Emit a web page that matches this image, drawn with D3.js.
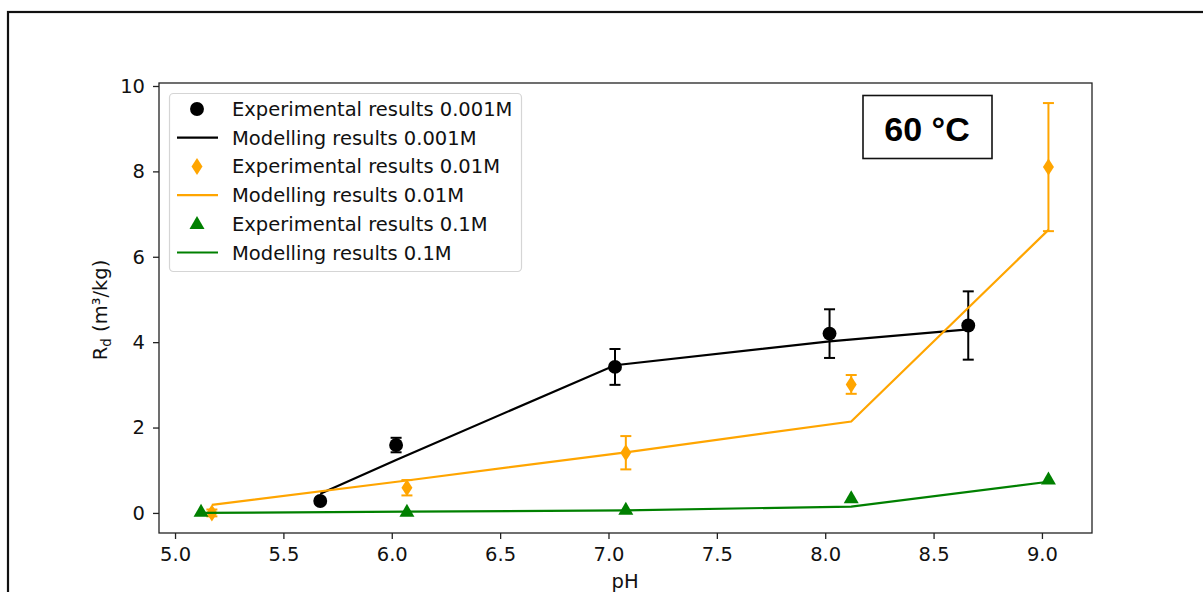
<!DOCTYPE html>
<html>
<head>
<meta charset="utf-8">
<script src="https://cdn.jsdelivr.net/npm/d3@7"></script>
<style>
  html, body { margin: 0; padding: 0; background: #fff; }
  svg { display: block; }
  text { font-family: "DejaVu Sans", sans-serif; }
</style>
</head>
<body>
<svg id="chart" width="1203" height="592"></svg>
<script>
// Sorption distribution coefficient vs pH at 60 °C, three ionic strengths
const seriesNames = ["0.001M", "0.01M", "0.1M"];
const seriesColors = ["#000000", "#FFA500", "#008000"];

// Experimental points (pH, Rd, error)
const expPH_001 = [5.67, 6.02, 7.03, 8.02, 8.66];
const expRd_001 = [0.28, 1.59, 3.42, 4.20, 4.39];
const expErr_001 = [0.0, 0.17, 0.42, 0.57, 0.80];

const expPH_01 = [5.17, 6.07, 7.08, 8.12, 9.03];
const expRd_01 = [0.0, 0.59, 1.41, 3.01, 8.10];
const expErr_01 = [0.08, 0.18, 0.39, 0.22, 1.50];

const expPH_1 = [5.12, 6.07, 7.08, 8.12, 9.03];
const expRd_1 = [0.03, 0.03, 0.08, 0.35, 0.79];

// Modelling results (pH, Rd)
const modPH_001 = [5.67, 6.02, 7.03, 8.02, 8.66];
const modRd_001 = [0.45, 1.24, 3.46, 4.02, 4.30];

const modPH_01 = [5.17, 6.07, 7.08, 8.12, 9.03];
const modRd_01 = [0.19, 0.76, 1.42, 2.14, 6.63];

const modPH_1 = [5.12, 6.07, 7.08, 8.12, 9.03];
const modRd_1 = [0.0, 0.03, 0.06, 0.15, 0.73];

const xTicks = [5.0, 5.5, 6.0, 6.5, 7.0, 7.5, 8.0, 8.5, 9.0];
const yTicks = [0, 2, 4, 6, 8, 10];

const FONT = "19.5px";
const svg = d3.select("#chart");

// outer frame
svg.append("rect")
  .attr("x", 8).attr("y", 12)
  .attr("width", 1300).attr("height", 700)
  .attr("fill", "none").attr("stroke", "#111").attr("stroke-width", 2.2);

const plot = { left: 159, right: 1092, top: 83, bottom: 533 };

const x = d3.scaleLinear().domain([4.926, 9.231]).range([plot.left, plot.right]);
const y = d3.scaleLinear().domain([-0.47, 10.07]).range([plot.bottom, plot.top]);

// axes
const xAxis = d3.axisBottom(x).tickValues(xTicks).tickFormat(d3.format(".1f")).tickSize(6).tickPadding(8);
const yAxis = d3.axisLeft(y).tickValues(yTicks).tickFormat(d3.format("d")).tickSize(6).tickPadding(8);

const gx = svg.append("g").attr("transform", `translate(0,${plot.bottom})`).call(xAxis);
const gy = svg.append("g").attr("transform", `translate(${plot.left},0)`).call(yAxis);
[gx, gy].forEach(g => {
  g.select(".domain").remove();
  g.selectAll(".tick line").attr("stroke", "#222").attr("stroke-width", 1.3);
  g.selectAll(".tick text").attr("fill", "#111").style("font-size", FONT)
    .style("font-family", "'DejaVu Sans', sans-serif");
});

// spines
svg.append("rect")
  .attr("x", plot.left).attr("y", plot.top)
  .attr("width", plot.right - plot.left).attr("height", plot.bottom - plot.top)
  .attr("fill", "none").attr("stroke", "#222").attr("stroke-width", 1.3);

// axis labels
svg.append("text")
  .attr("x", x(7.0765)).attr("y", 588)
  .attr("text-anchor", "middle")
  .style("font-size", FONT).attr("fill", "#111")
  .text("pH");

const yl = svg.append("text")
  .attr("transform", `translate(107,${(plot.top + plot.bottom) / 2 + 2}) rotate(-90)`)
  .attr("text-anchor", "middle")
  .style("font-size", FONT).attr("fill", "#111");
yl.append("tspan").text("R");
yl.append("tspan").attr("dy", 4).style("font-size", "13.5px").text("d");
yl.append("tspan").attr("dy", -4).text(" (m³/kg)");

const line = d3.line().x(d => x(d[0])).y(d => y(d[1]));

// marker shapes
const circleSym = d3.symbol().type(d3.symbolCircle).size(152);
function diamondPath(w, h) {
  return `M0,${-h / 2}L${w / 2},0L0,${h / 2}L${-w / 2},0Z`;
}
function trianglePath(w, h) {
  return `M0,${-h * 0.6}L${w / 2},${h * 0.4}L${-w / 2},${h * 0.4}Z`;
}

function drawErrors(px, py, pe, color) {
  const g = svg.append("g");
  px.forEach((p, i) => {
    const e = pe[i];
    if (!e) return;
    const cx = x(p);
    g.append("line")
      .attr("x1", cx).attr("x2", cx)
      .attr("y1", y(py[i] - e)).attr("y2", y(py[i] + e))
      .attr("stroke", color).attr("stroke-width", 2);
    [py[i] - e, py[i] + e].forEach(v => {
      g.append("line")
        .attr("x1", cx - 5.5).attr("x2", cx + 5.5)
        .attr("y1", y(v)).attr("y2", y(v))
        .attr("stroke", color).attr("stroke-width", 2);
    });
  });
}

function drawMarkers(px, py, pathStr, color) {
  svg.append("g").selectAll("path")
    .data(px.map((p, i) => [p, py[i]]))
    .join("path")
    .attr("transform", d => `translate(${x(d[0])},${y(d[1])})`)
    .attr("d", pathStr)
    .attr("fill", color);
}

function drawModel(px, py, color) {
  svg.append("path")
    .datum(px.map((p, i) => [p, py[i]]))
    .attr("d", line)
    .attr("fill", "none")
    .attr("stroke", color)
    .attr("stroke-width", 2.2);
}

// 0.001M
drawErrors(expPH_001, expRd_001, expErr_001, seriesColors[0]);
drawMarkers(expPH_001, expRd_001, circleSym(), seriesColors[0]);
drawModel(modPH_001, modRd_001, seriesColors[0]);
// 0.01M
drawErrors(expPH_01, expRd_01, expErr_01, seriesColors[1]);
drawMarkers(expPH_01, expRd_01, diamondPath(11, 17), seriesColors[1]);
drawModel(modPH_01, modRd_01, seriesColors[1]);
// 0.1M
drawMarkers(expPH_1, expRd_1, trianglePath(15, 13), seriesColors[2]);
drawModel(modPH_1, modRd_1, seriesColors[2]);

// legend
const legendItems = [
  { kind: "circle", color: seriesColors[0], label: "Experimental results " + seriesNames[0] },
  { kind: "line", color: seriesColors[0], label: "Modelling results " + seriesNames[0] },
  { kind: "diamond", color: seriesColors[1], label: "Experimental results " + seriesNames[1] },
  { kind: "line", color: seriesColors[1], label: "Modelling results " + seriesNames[1] },
  { kind: "triangle", color: seriesColors[2], label: "Experimental results " + seriesNames[2] },
  { kind: "line", color: seriesColors[2], label: "Modelling results " + seriesNames[2] }
];
const lg = svg.append("g");
lg.append("rect")
  .attr("x", 169.5).attr("y", 93.5).attr("width", 352).attr("height", 178)
  .attr("rx", 4).attr("fill", "#fff").attr("fill-opacity", 0.8)
  .attr("stroke", "#d5d5d5").attr("stroke-width", 1.2);
legendItems.forEach((it, i) => {
  const cy = 109 + i * 28.7;
  if (it.kind === "line") {
    lg.append("line").attr("x1", 177).attr("x2", 218).attr("y1", cy).attr("y2", cy)
      .attr("stroke", it.color).attr("stroke-width", 2.2);
  } else {
    const d = it.kind === "circle" ? circleSym() : it.kind === "diamond" ? diamondPath(11, 17) : trianglePath(15, 13);
    lg.append("path").attr("transform", `translate(197,${cy})`).attr("d", d).attr("fill", it.color);
  }
  lg.append("text").attr("x", 232).attr("y", cy + 7)
    .style("font-size", FONT).attr("fill", "#111").text(it.label);
});

// temperature tag
svg.append("rect")
  .attr("x", 863).attr("y", 95.5).attr("width", 129).attr("height", 63)
  .attr("fill", "#fff").attr("stroke", "#111").attr("stroke-width", 1.6);
svg.append("text")
  .attr("x", 927).attr("y", 141)
  .attr("text-anchor", "middle")
  .style("font-family", "'Liberation Sans', Arial, sans-serif")
  .style("font-weight", "bold").style("font-size", "34px").attr("fill", "#000")
  .text("60 °C");
</script>
</body>
</html>
